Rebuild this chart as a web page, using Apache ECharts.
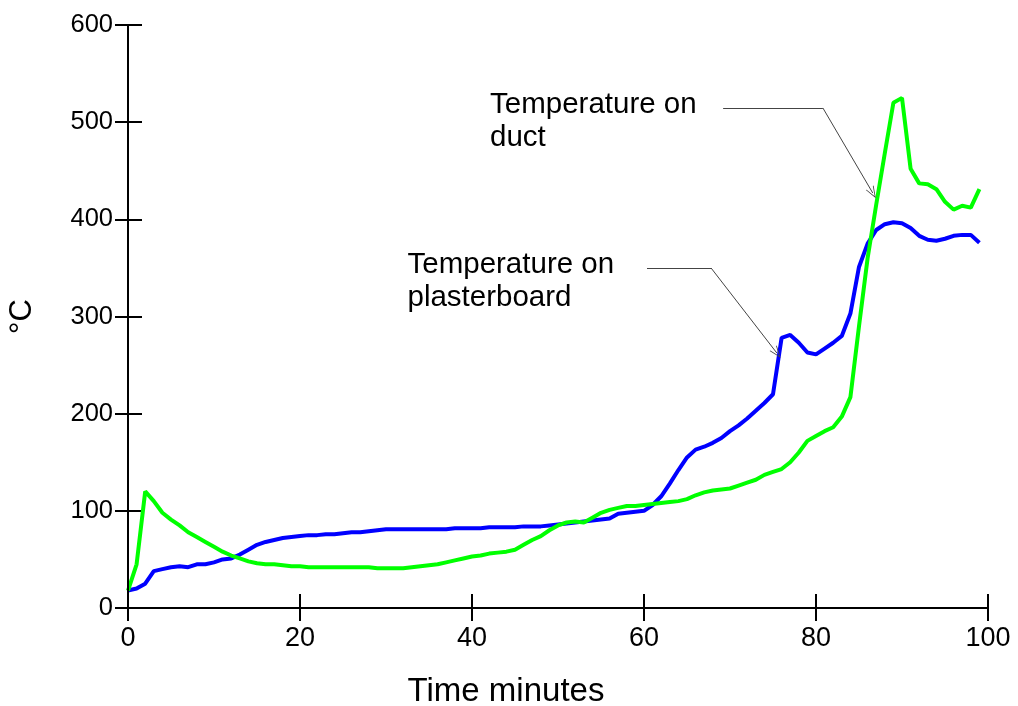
<!DOCTYPE html>
<html>
<head>
<meta charset="utf-8">
<script src="https://cdn.jsdelivr.net/npm/echarts@6/dist/echarts.min.js"></script>
<style>
html,body{margin:0;padding:0;background:#fff;}
#chart{width:1018px;height:706px;}
</style>
</head>
<body>
<div id="chart"></div>
<script>
// ---- data ----
var minutes = [0,1,2,3,4,5,6,7,8,9,10,11,12,13,14,15,16,17,18,19,20,21,22,23,24,25,26,27,28,29,30,31,32,33,34,35,36,37,38,39,40,41,42,43,44,45,46,47,48,49,50,51,52,53,54,55,56,57,58,59,60,61,62,63,64,65,66,67,68,69,70,71,72,73,74,75,76,77,78,79,80,81,82,83,84,85,86,87,88,89,90,91,92,93,94,95,96,97,98,99];
var plasterboard = [18,20,25,38,40,42,43,42,45,45,47,50,51,55,60,65,68,70,72,73,74,75,75,76,76,77,78,78,79,80,81,81,81,81,81,81,81,81,82,82,82,82,83,83,83,83,84,84,84,85,86,87,88,89,90,91,92,97,98,99,100,106,115,128,142,155,163,166,170,175,182,188,195,203,211,220,278,281,273,263,261,267,273,280,303,351,375,389,395,397,396,391,383,379,378,380,383,384,384,376];
var duct = [18,45,120,110,98,91,85,78,73,68,63,58,54,51,48,46,45,45,44,43,43,42,42,42,42,42,42,42,42,41,41,41,41,42,43,44,45,47,49,51,53,54,56,57,58,60,65,70,74,80,85,88,89,88,93,98,101,103,105,105,106,107,108,109,110,112,116,119,121,122,123,126,129,132,137,140,143,150,160,172,177,182,186,197,217,290,360,415,468,520,525,452,437,436,431,418,410,414,412,431];
var xTicks = [0,20,40,60,80,100];
var yTicks = [0,100,200,300,400,500,600];
var ductLabel = "Temperature on\nduct";
var plasterLabel = "Temperature on\nplasterboard";
// annotation leader lines [minute, °C]: start, bend, arrow tip
var ductLeader = [[69.2,514.6],[80.8,514.6],[86.6,427.1]];
var plasterLeader = [[60.35,349.9],[67.8,349.9],[75.45,262.4]];
// annotation text anchors [minute, °C] (top-left of text)
var ductTextAt = [42.1,535];
var plasterTextAt = [32.5,370];

function pairs(xs, ys){ return xs.map(function(x,i){ return [x, ys[i]]; }); }

var arrowPath = 'path://M5,0 L10,12 L9,12 L5,2.2 L1,12 L0,12 Z';
function leader(pts){
  return [
    [{coord: pts[0], symbol:'none'}, {coord: pts[1], symbol:'none'}],
    [{coord: pts[1], symbol:'none'}, {coord: pts[2], symbol: arrowPath, symbolSize:[9,12]}]
  ];
}

var TICK_IN = 14, TICK_OUT = 13;

var chart = echarts.init(document.getElementById('chart'), null, {renderer:'canvas'});
var FONT = 'Liberation Sans, Arial, sans-serif';

var option = {
  animation:false,
  backgroundColor:'#ffffff',
  grid:{left:128, right:30, top:25, bottom:98, containLabel:false, outerBoundsMode:'none'},
  xAxis:{
    type:'value', min:0, max:100, interval:20,
    position:'bottom', offset:-TICK_IN,   // ticks start inside the plot, cross the axis line
    name:'Time minutes', nameLocation:'middle', nameGap:67 + TICK_IN,
    nameTextStyle:{fontFamily:FONT, fontSize:33, color:'#000', padding:[0,104,0,0]},
    axisLine:{show:false, onZero:false},
    axisTick:{show:true, length:TICK_IN + TICK_OUT, lineStyle:{color:'#000', width:2}},
    axisLabel:{fontFamily:FONT, fontSize:27, color:'#000', margin:17 + TICK_IN},
    splitLine:{show:false}
  },
  yAxis:{
    type:'value', min:0, max:600, interval:100,
    position:'left', offset:-TICK_IN,
    name:'°C', nameLocation:'middle', nameGap:90 + TICK_IN, nameRotate:90,
    nameTextStyle:{fontFamily:FONT, fontSize:31, color:'#000'},
    axisLine:{show:false, onZero:false},
    axisTick:{show:true, length:TICK_IN + TICK_OUT, lineStyle:{color:'#000', width:2}},
    axisLabel:{fontFamily:FONT, fontSize:25.5, color:'#000', margin:15 + TICK_IN},
    splitLine:{show:false}
  },
  series:[
    {
      name:'Temperature on plasterboard', type:'line',
      data: pairs(minutes, plasterboard), showSymbol:false, symbol:'none',
      lineStyle:{color:'#0000ff', width:4}, z:3,
      markLine:{silent:true, symbol:['none','none'], label:{show:false},
        lineStyle:{color:'#444', width:1, type:'solid'}, emphasis:{disabled:true},
        data: leader(plasterLeader)}
    },
    {
      name:'Temperature on duct', type:'line',
      data: pairs(minutes, duct), showSymbol:false, symbol:'none',
      lineStyle:{color:'#00ff00', width:4}, z:4,
      markLine:{silent:true, symbol:['none','none'], label:{show:false},
        lineStyle:{color:'#444', width:1, type:'solid'}, emphasis:{disabled:true},
        data: leader(ductLeader)}
    },
    {
      // invisible helper carrying the two axis lines (x = 0 and °C = 0)
      type:'line', data:[[minutes[0], duct[0]]], silent:true,
      symbol:'none', showSymbol:false, lineStyle:{opacity:0}, z:2,
      markLine:{silent:true, symbol:['none','none'], label:{show:false},
        lineStyle:{color:'#000', width:2, type:'solid'}, emphasis:{disabled:true},
        data:[{yAxis:yTicks[0]}, {xAxis:xTicks[0]}]}
    }
  ]
};
chart.setOption(option);

function textEl(at, txt){
  var p = chart.convertToPixel({xAxisIndex:0, yAxisIndex:0}, at);
  return {type:'text', x:p[0], y:p[1], silent:true,
    style:{text:txt, fontFamily:FONT, fontSize:29.5, lineHeight:33, fill:'#000', textAlign:'left', textVerticalAlign:'top'}};
}
chart.setOption({graphic:[textEl(ductTextAt, ductLabel), textEl(plasterTextAt, plasterLabel)]});
</script>
</body>
</html>
